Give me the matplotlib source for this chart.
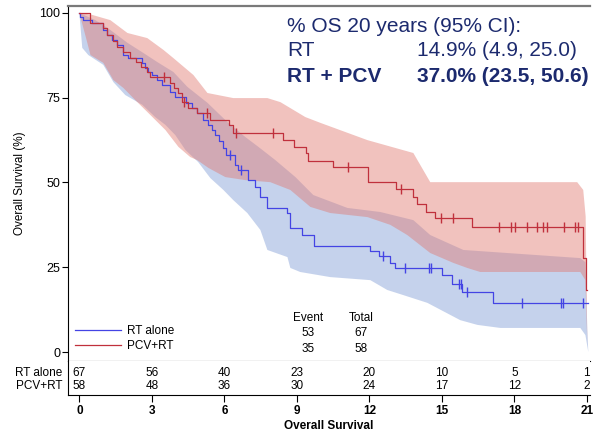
import numpy as np
import matplotlib
matplotlib.use("Agg")
import matplotlib.pyplot as plt

plt.rcParams['font.family'] = ['Liberation Sans', 'DejaVu Sans']

# KM step curves (time in years, survival %)
rt_t = [0, 0.04, 0.17, 0.54, 0.99, 1.16, 1.37, 1.57, 1.82, 2.03, 2.61, 2.73, 2.85, 3.02, 3.23,
        3.43, 3.76, 3.97, 4.43, 4.68, 4.88, 5.13, 5.34, 5.50, 5.63, 5.79, 5.96, 6.08, 6.45, 6.58,
        6.99, 7.28, 7.49, 7.78, 8.61, 8.73, 9.23, 9.72, 12.04, 12.41, 12.87, 13.07, 15.02, 15.43,
        15.85, 17.13, 21.06]
rt_s = [100, 98.8, 97.9, 97.0, 95.0, 93.5, 92.0, 90.6, 87.6, 86.7, 85.3, 83.8, 82.6, 81.7, 80.2,
        78.8, 76.7, 75.2, 73.5, 72.0, 70.5, 68.4, 67.0, 65.5, 64.0, 62.2, 60.2, 58.1, 55.2, 53.7,
        50.7, 48.7, 45.7, 42.5, 41.0, 36.6, 34.5, 31.3, 29.8, 28.3, 26.3, 24.8, 22.7, 20.1,
        17.7, 14.5, 14.5]
rt_cens = [6.25, 6.7, 12.58, 13.49, 14.48, 14.56, 15.72, 15.8, 16.05, 18.33, 19.94, 20.0, 20.85]

pcv_t = [0, 0.46, 0.99, 1.16, 1.41, 1.57, 1.82, 2.11, 2.36, 2.57, 2.81, 2.94, 3.76, 3.93, 4.10,
         4.26, 4.51, 4.88, 5.42, 6.21, 6.37, 8.44, 8.90, 9.39, 9.47, 10.5, 11.96, 13.1, 13.8,
         13.98, 14.36, 14.73, 16.26, 20.85, 20.98, 21.0]
pcv_s = [100, 97.0, 95.6, 93.5, 91.7, 90.0, 88.5, 86.7, 85.5, 84.1, 82.6, 81.1, 79.4, 77.9, 76.4,
         73.7, 72.0, 70.5, 68.4, 67.0, 64.6, 62.5, 60.5, 58.7, 56.3, 54.6, 50.1, 48.0, 45.7,
         43.7, 41.3, 39.5, 36.9, 27.7, 18.3, 18.3]
pcv_cens = [3.5, 4.35, 5.3, 6.5, 8.0, 11.13, 13.3, 14.98, 15.47, 17.38, 17.87, 18.04, 18.54,
            18.95, 19.2, 19.36, 20.07, 20.52, 20.64]

# 95% CI bands (outline points)
rt_up_t = [0, 0.66, 1.28, 1.99, 2.65, 3.23, 3.89, 4.47, 5.30, 6.16, 6.87, 7.41, 8.11, 8.94, 9.68,
           11.09, 12.45, 13.82, 14.52, 15.89, 20.73, 20.94, 21.02]
rt_up_s = [100, 97.9, 95.0, 91.2, 88.2, 85.5, 82.6, 78.2, 73.5, 67.6, 63.4, 60.5, 56.6, 51.6, 46.3,
           42.5, 41.3, 38.9, 34.5, 30.1, 27.7, 26.5, 6.5]
rt_lo_t = [0, 0.12, 0.37, 0.99, 1.41, 1.90, 2.61, 3.14, 3.56, 3.97, 4.39, 4.92, 5.42, 5.96, 6.37,
           6.95, 7.49, 7.78, 8.61, 8.73, 9.14, 10.38, 12.04, 12.74, 13.40, 14.40, 15.76, 16.47,
           17.42, 20.73, 20.94, 21.06]
rt_lo_s = [100, 89.7, 87.6, 84.7, 79.6, 75.8, 72.9, 69.3, 67.0, 64.0, 59.6, 56.0, 51.3, 47.8, 44.8,
           41.0, 36.0, 30.1, 28.0, 24.8, 23.6, 22.1, 21.2, 18.3, 16.8, 14.5, 9.4, 8.0,
           7.1, 7.1, 5.0, 0]

pcv_up_t = [0, 0.5, 1.28, 1.99, 2.81, 3.48, 3.89, 4.72, 5.30, 6.37, 7.78, 8.32, 9.35, 9.97, 11.92,
            13.82, 14.52, 20.6, 20.85, 20.95]
pcv_up_s = [100, 99.5, 97.9, 94.1, 92.6, 89.1, 86.7, 81.7, 76.4, 74.9, 74.9, 73.7, 69.3, 67.6, 62.5,
            58.7, 50.1, 50.1, 47.8, 40]
pcv_lo_t = [0, 0.3, 0.46, 0.99, 1.41, 1.82, 2.40, 2.94, 3.56, 4.10, 4.59, 4.88, 5.34, 6.04, 6.87,
            7.90, 8.73, 9.56, 10.38, 11.92, 12.87, 13.57, 14.52, 15.47, 16.05, 16.59, 20.73,
            20.94, 21.02]
pcv_lo_s = [100, 92.0, 87.6, 85.3, 80.2, 77.9, 73.7, 69.9, 65.5, 60.5, 57.5, 56.6, 54.3, 51.6, 50.7,
            50.1, 47.8, 42.8, 41.0, 39.8, 37.5, 34.5, 29.2, 26.3, 24.8, 23.6, 23.6,
            21.2, 2.1]

# number at risk
risk_times = [0, 3, 6, 9, 12, 15, 18, 21]
rt_risk = [67, 56, 40, 23, 20, 10, 5, 1]
pcv_risk = [58, 48, 36, 30, 24, 17, 12, 2]
groups = ['RT alone', 'PCV+RT']
events = [53, 35]
totals = [67, 58]

BLUE = '#4444e4'
RED = '#c0303c'
NAVY = '#1c2a6e'

W, H = 593, 432
fig = plt.figure(figsize=(W / 100, H / 100), dpi=100)

def px(x0, y0, x1, y1):
    # pixel box -> figure fraction [left, bottom, width, height]
    return [x0 / W, 1 - y1 / H, (x1 - x0) / W, (y1 - y0) / H]

ax = fig.add_axes(px(68, 6, 590, 361))
tab = fig.add_axes(px(68, 361, 590, 395))

xlim = (-0.47, 21.13)

# bands: blue first, red over it
ax.fill(np.concatenate([rt_up_t, rt_lo_t[::-1]]), np.concatenate([rt_up_s, rt_lo_s[::-1]]),
        color='#7090d0', alpha=0.4, lw=0)
ax.fill(np.concatenate([pcv_up_t, pcv_lo_t[::-1]]), np.concatenate([pcv_up_s, pcv_lo_s[::-1]]),
        color='#e07870', alpha=0.45, lw=0)

ax.step(rt_t, rt_s, where='post', color=BLUE, lw=0.9, label=groups[0])
ax.step(pcv_t, pcv_s, where='post', color=RED, lw=0.9, label=groups[1])

def surv_at(ts, ss, c):
    i = np.searchsorted(ts, c, side='right') - 1
    return ss[i]

ax.plot(rt_cens, [surv_at(rt_t, rt_s, c) for c in rt_cens], ls='none', marker='|',
        ms=7, mew=1.0, color=BLUE)
ax.plot(pcv_cens, [surv_at(pcv_t, pcv_s, c) for c in pcv_cens], ls='none', marker='|',
        ms=7, mew=1.0, color=RED)

ax.set_xlim(*xlim)
ax.set_ylim(-2.65, 102.06)
ax.set_yticks([0, 25, 50, 75, 100])
ax.tick_params(axis='y', labelsize=9, length=4, width=0.8, pad=1.5)
ax.set_xticks([])
ax.spines['right'].set_visible(False)
ax.spines['top'].set_color('#7a7a7a')
ax.spines['top'].set_linewidth(1.6)

leg = ax.legend(loc='lower left', bbox_to_anchor=(0.014, 0.025), frameon=False,
                fontsize=8.5, handlelength=3.9, handletextpad=0.5, labelspacing=0.25,
                borderaxespad=0, borderpad=0)

# event / total block
fig.text(308 / W, 1 - 318 / H, 'Event', ha='center', va='center', fontsize=8.5)
fig.text(361 / W, 1 - 318 / H, 'Total', ha='center', va='center', fontsize=8.5)
for i, yy in enumerate([333, 349]):
    fig.text(308 / W, 1 - yy / H, str(events[i]), ha='center', va='center', fontsize=8.5)
    fig.text(361 / W, 1 - yy / H, str(totals[i]), ha='center', va='center', fontsize=8.5)

# OS annotation
fs = 15
fig.text(287 / W, 1 - 26 / H, '% OS 20 years (95% CI):', color=NAVY, fontsize=fs, va='center')
fig.text(287 / W, 1 - 51 / H, 'RT', color=NAVY, fontsize=fs, va='center')
fig.text(417 / W, 1 - 51 / H, '14.9% (4.9, 25.0)', color=NAVY, fontsize=fs, va='center')
fig.text(287 / W, 1 - 76 / H, 'RT + PCV', color=NAVY, fontsize=fs, va='center', weight='bold')
fig.text(417 / W, 1 - 76 / H, '37.0% (23.5, 50.6)', color=NAVY, fontsize=fs, va='center',
         weight='bold')

# risk table
narrow = ['Liberation Sans Narrow', 'Liberation Sans']
tab.set_xlim(*xlim)
tab.set_ylim(0, 1)
for t, a, b in zip(risk_times, rt_risk, pcv_risk):
    tab.text(t, 0.647, str(a), ha='center', va='center', fontsize=8.5, family=narrow)
    tab.text(t, 0.265, str(b), ha='center', va='center', fontsize=8.5, family=narrow)
for yy, g in zip([0.647, 0.265], groups):
    tab.text(-0.7, yy, g, ha='right', va='center', fontsize=8.5, family=narrow)
tab.set_yticks([])
tab.set_xticks(risk_times)
tab.set_xticklabels([str(t) for t in risk_times], fontsize=8.5, weight='bold')
tab.tick_params(axis='x', length=5, width=0.8, pad=2)
tab.spines['right'].set_visible(False)
tab.spines['top'].set_visible(False)

fig.text(329 / W, 1 - 426 / H, 'Overall Survival', ha='center', va='center', fontsize=8.5,
         weight='bold')
fig.text(20 / W, 1 - 183 / H, 'Overall Survival (%)', ha='center', va='center', fontsize=8.5,
         rotation=90)

fig.savefig('out.png', dpi=100)
